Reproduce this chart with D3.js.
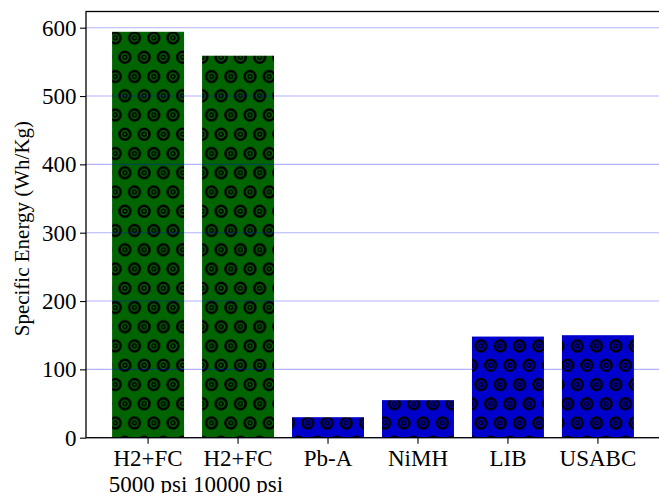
<!DOCTYPE html>
<html>
<head>
<meta charset="utf-8">
<script src="https://cdn.jsdelivr.net/npm/d3@7"></script>
<style>
  html, body { margin: 0; padding: 0; background: #fff; }
  svg { display: block; }
  text { font-family: "Liberation Serif", "Times New Roman", serif; fill: #000; }
</style>
</head>
<body>
<svg id="chart" width="659" height="493"></svg>
<script>
// Specific energy of storage technologies (Wh/Kg)
const categories = ["H2+FC\n5000 psi", "H2+FC\n10000 psi", "Pb-A", "NiMH", "LIB", "USABC"];
const values = [594, 559, 30, 55, 148, 150];
const fillKeys = ["green", "green", "blue", "blue", "blue", "blue"];
const yTicks = [0, 100, 200, 300, 400, 500, 600];
const yLabel = "Specific Energy (Wh/Kg)";

const W = 659, H = 493;
const serif = "'Liberation Serif', 'Times New Roman', serif";
const margin = { left: 86, right: -1, top: 11.5, bottom: 55.3 };
const x0 = margin.left, x1 = W - margin.right;
const yTop = margin.top, yBottom = H - margin.bottom;

const svg = d3.select("#chart");

const x = d3.scaleBand()
  .domain(categories)
  .range([x0, x1])
  .paddingInner(0.2)
  .paddingOuter(0.29);

const yMax = d3.max(values) * 1.05;
const y = d3.scaleLinear().domain([0, yMax]).range([yBottom, yTop]);

// Hatch tiles: double-ring "target" motif in a staggered grid
const s = 19.25;
const fills = { green: "#006400", blue: "#0000cd" };
const defs = svg.append("defs");
Object.entries(fills).forEach(([key, col]) => {
  const p = defs.append("pattern")
    .attr("id", "hatch-" + key)
    .attr("patternUnits", "userSpaceOnUse")
    .attr("x", 9.375).attr("y", 28.375)
    .attr("width", s).attr("height", 2 * s);
  p.append("rect").attr("width", s).attr("height", 2 * s).attr("fill", col);
  const centers = [[s / 2, s / 2], [0, 1.5 * s], [s, 1.5 * s], [s / 2, 2.5 * s]];
  centers.forEach(([cx, cy]) => {
    p.append("circle").attr("cx", cx).attr("cy", cy).attr("r", 5.4)
      .attr("fill", "none").attr("stroke", "#000").attr("stroke-width", 2.5);
    p.append("circle").attr("cx", cx).attr("cy", cy).attr("r", 1.9)
      .attr("fill", "none").attr("stroke", "#000").attr("stroke-width", 1.5);
  });
});

// Bars
svg.append("g").selectAll("rect")
  .data(categories)
  .join("rect")
  .attr("x", d => x(d))
  .attr("width", x.bandwidth())
  .attr("y", (d, i) => y(values[i]))
  .attr("height", (d, i) => y(0) - y(values[i]))
  .attr("fill", (d, i) => `url(#hatch-${fillKeys[i]})`);

// Horizontal grid lines drawn over the bars
svg.append("g").selectAll("line")
  .data(yTicks)
  .join("line")
  .attr("x1", x0).attr("x2", x1)
  .attr("y1", d => y(d)).attr("y2", d => y(d))
  .attr("stroke", "#0000ff").attr("stroke-opacity", 0.3).attr("stroke-width", 1.1);

// Y axis
const yAxis = svg.append("g")
  .attr("transform", `translate(${x0},0)`)
  .call(d3.axisLeft(y).tickValues(yTicks).tickSize(6).tickPadding(3.5).tickFormat(d3.format("d")))
  .attr("font-family", serif)
  .attr("font-size", 23);
yAxis.select(".domain").remove();
yAxis.selectAll(".tick line").attr("stroke", "#000").attr("stroke-width", 1.1);
yAxis.selectAll(".tick text").attr("dy", "0.33em");

// X axis
const xAxis = svg.append("g")
  .attr("transform", `translate(0,${yBottom})`)
  .call(d3.axisBottom(x).tickSize(6).tickFormat(""))
  .attr("font-family", serif)
  .attr("font-size", 23);
xAxis.select(".domain").remove();
xAxis.selectAll(".tick line").attr("stroke", "#000").attr("stroke-width", 1.1);
xAxis.selectAll(".tick").each(function (d) {
  const lines = d.split("\n");
  const t = d3.select(this).append("text")
    .attr("text-anchor", "middle")
    .attr("fill", "#000");
  lines.forEach((ln, i) => {
    t.append("tspan").attr("x", 0).attr("y", 28.2 + i * 26.2).text(ln);
  });
});

// Frame
svg.append("rect")
  .attr("x", x0).attr("y", yTop)
  .attr("width", x1 - x0).attr("height", yBottom - yTop)
  .attr("fill", "none").attr("stroke", "#000").attr("stroke-width", 1.3);

// Y axis label
svg.append("text")
  .attr("transform", `translate(29,${(yTop + yBottom) / 2 + 4}) rotate(-90)`)
  .attr("text-anchor", "middle")
  .attr("font-family", serif)
  .attr("font-size", 21)
  .text(yLabel);
</script>
</body>
</html>
